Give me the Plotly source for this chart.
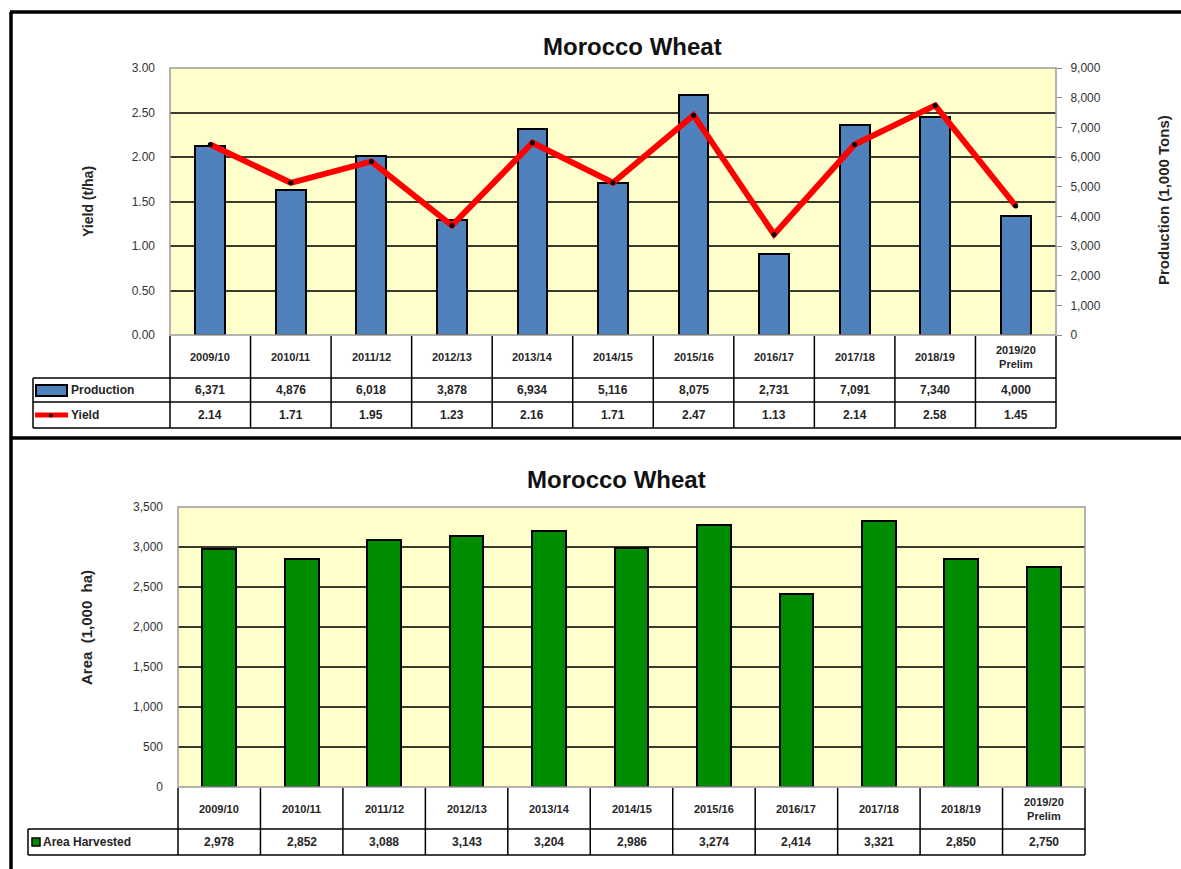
import plotly.graph_objects as go

# ---------------- data ----------------
years = ["2009/10", "2010/11", "2011/12", "2012/13", "2013/14", "2014/15",
         "2015/16", "2016/17", "2017/18", "2018/19", "2019/20 Prelim"]
year_labels = ["2009/10", "2010/11", "2011/12", "2012/13", "2013/14", "2014/15",
               "2015/16", "2016/17", "2017/18", "2018/19", "2019/20<br>Prelim"]
production = [6371, 4876, 6018, 3878, 6934, 5116, 8075, 2731, 7091, 7340, 4000]
yield_tha = [2.14, 1.71, 1.95, 1.23, 2.16, 1.71, 2.47, 1.13, 2.14, 2.58, 1.45]
area = [2978, 2852, 3088, 3143, 3204, 2986, 3274, 2414, 3321, 2850, 2750]

W, H = 1181, 869
FONT = "Liberation Sans, Arial, sans-serif"
TXT = "#262626"


def px(x):
    return x / W


def py(y):
    return 1 - y / H


fig = go.Figure()

# top chart
fig.add_trace(go.Bar(x=years, y=production, xaxis="x", yaxis="y", width=0.37,
                     marker=dict(color="#4F81BD", line=dict(color="#000000", width=2)),
                     name="Production", showlegend=False))
fig.add_trace(go.Scatter(x=years, y=yield_tha, xaxis="x", yaxis="y2", mode="lines+markers",
                         line=dict(color="#FF0000", width=6),
                         marker=dict(color="#000000", size=5),
                         name="Yield", showlegend=False))
# bottom chart
fig.add_trace(go.Bar(x=years, y=area, xaxis="x2", yaxis="y3", width=0.41,
                     marker=dict(color="#008C00", line=dict(color="#000000", width=2)),
                     name="Area Harvested", showlegend=False))

T1 = dict(x0=170, x1=1056, y0=68, y1=335)
T2 = dict(x0=178, x1=1085, y0=507, y1=787)

tickfont = dict(family=FONT, size=12, color="#333333")

fig.update_layout(
    width=W, height=H, margin=dict(l=0, r=0, t=0, b=0, autoexpand=False),
    paper_bgcolor="white", plot_bgcolor="#FFFFCC",
    bargap=0, showlegend=False,
    xaxis=dict(domain=[px(T1["x0"]), px(T1["x1"])], anchor="y", type="category",
               range=[-0.5, 10.5], showticklabels=False, showgrid=False, zeroline=False,
               fixedrange=True),
    yaxis=dict(domain=[py(T1["y1"]), py(T1["y0"])], anchor="x", side="right",
               range=[0, 9000], dtick=1000, tickformat=",d", showgrid=False, zeroline=False,
               ticks="outside", ticklen=5, tickcolor="#888888", tickfont=tickfont,
               ticklabelstandoff=6),
    yaxis2=dict(domain=[py(T1["y1"]), py(T1["y0"])], anchor="x", overlaying="y", side="left",
                range=[0, 3], dtick=0.5, tickformat=".2f", showgrid=True,
                gridcolor="#3A3A30", gridwidth=2, zeroline=False, tickfont=tickfont,
                ticklabelstandoff=14),
    xaxis2=dict(domain=[px(T2["x0"]), px(T2["x1"])], anchor="y3", type="category",
                range=[-0.5, 10.5], showticklabels=False, showgrid=False, zeroline=False),
    yaxis3=dict(domain=[py(T2["y1"]), py(T2["y0"])], anchor="x2", range=[0, 3500], dtick=500,
                tickformat=",d", showgrid=True, gridcolor="#3A3A30", gridwidth=2,
                zeroline=False, tickfont=tickfont, ticklabelstandoff=14),
)

shapes = []
annotations = []


def line(x0, y0, x1, y1, color="#000000", width=1.5):
    shapes.append(dict(type="line", xref="paper", yref="paper", x0=px(x0), y0=py(y0),
                       x1=px(x1), y1=py(y1), line=dict(color=color, width=width)))


def rect(x0, y0, x1, y1, fill, lc="#000000", lw=1.5):
    shapes.append(dict(type="rect", xref="paper", yref="paper", x0=px(x0), y0=py(y0),
                       x1=px(x1), y1=py(y1), fillcolor=fill, line=dict(color=lc, width=lw)))


def text(x, y, s, size=11, bold=True, xanchor="center", angle=0, color=TXT):
    annotations.append(dict(xref="paper", yref="paper", x=px(x), y=py(y),
                            text=(f"<b>{s}</b>" if bold else s), showarrow=False,
                            xanchor=xanchor, yanchor="middle", textangle=angle,
                            font=dict(family=FONT, size=size, color=color)))


# plot area frames
for T in (T1, T2):
    rect(T["x0"], T["y0"], T["x1"], T["y1"], "rgba(0,0,0,0)", lc="#9A9A9A", lw=1.5)

# panel frames
line(10, 12, W, 12, width=3.5)
line(11, 12, 11, H, width=3.5)
line(10, 438, W, 438, width=3.5)

# ---------------- top table ----------------
n = len(years)
cw1 = (T1["x1"] - T1["x0"]) / n
hdr_top, hdr_bot, r1, r2 = 336, 378, 402, 428
lab_l = 33
for yy in (hdr_bot, r1, r2):
    line(lab_l, yy, T1["x1"], yy)
line(lab_l, hdr_bot, lab_l, r2)
for i in range(n + 1):
    xx = T1["x0"] + i * cw1
    line(xx, hdr_top, xx, r2)
for i, lab in enumerate(year_labels):
    cx = T1["x0"] + (i + 0.5) * cw1
    text(cx, (hdr_top + hdr_bot) / 2, lab, size=11)
    text(cx, (hdr_bot + r1) / 2, f"{production[i]:,}", size=12)
    text(cx, (r1 + r2) / 2, f"{yield_tha[i]:.2f}", size=12)
# legend keys
rect(36, 385, 67, 396, "#4F81BD", lw=2)
text(69, (hdr_bot + r1) / 2, "Production", size=12, xanchor="left")
line(35, 415, 68, 415, color="#FF0000", width=5)
shapes.append(dict(type="circle", xref="paper", yref="paper", x0=px(49), y0=py(413.5),
                   x1=px(53), y1=py(417.5), fillcolor="#000000", line=dict(width=0)))
text(69, (r1 + r2) / 2, "Yield", size=12, xanchor="left")

# ---------------- bottom table ----------------
cw2 = (T2["x1"] - T2["x0"]) / n
h2_top, h2_bot, r3 = 788, 829, 855
lab_l2 = 28
for yy in (h2_bot, r3):
    line(lab_l2, yy, T2["x1"], yy)
line(lab_l2, h2_bot, lab_l2, r3)
for i in range(n + 1):
    xx = T2["x0"] + i * cw2
    line(xx, h2_top, xx, r3)
for i, lab in enumerate(year_labels):
    cx = T2["x0"] + (i + 0.5) * cw2
    text(cx, (h2_top + h2_bot) / 2, lab, size=11)
    text(cx, (h2_bot + r3) / 2, f"{area[i]:,}", size=12)
rect(32, 838, 40, 846, "#008C00", lw=1.5)
text(41, (h2_bot + r3) / 2, "Area Harvested", size=12, xanchor="left")

# ---------------- titles ----------------
text(632, 47, "Morocco Wheat", size=24, color="#111111")
text(616, 480, "Morocco Wheat", size=24, color="#111111")
text(88, 202, "Yield (t/ha)", size=14, angle=-90)
text(1163, 200, "Production (1,000 Tons)", size=15, angle=-90)
text(86, 628, "Area  (1,000  ha)", size=15, angle=-90)

fig.update_layout(shapes=shapes, annotations=annotations)
fig.write_html(
    "out.html",
    config={"displayModeBar": False},
    post_script="document.body.style.margin='0';document.body.style.overflow='hidden';",
)
